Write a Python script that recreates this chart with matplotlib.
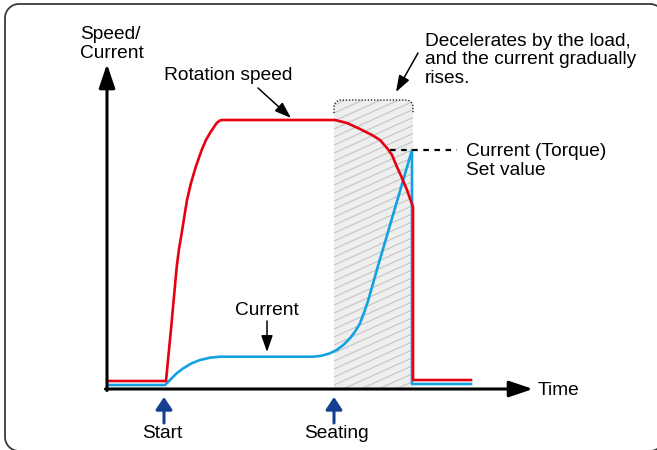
import numpy as np
import matplotlib
matplotlib.use("Agg")
import matplotlib.pyplot as plt
from matplotlib.patches import PathPatch
from matplotlib.path import Path

plt.rcParams['font.family'] = ['Liberation Sans', 'DejaVu Sans']

# ---------------- data (time, value) ----------------
speed_t = [2, 59, 64, 69.7, 72, 74.7, 80, 84, 88.7, 94.7, 99, 103, 106.3, 109.7, 112.5, 115,
           228, 240, 253, 265, 273, 280, 285, 290, 295, 300, 306, 306, 364]
speed_v = [8, 8, 60, 122, 140, 156, 189, 206, 222, 239, 249, 256, 261, 266, 268.3, 269,
           269, 266, 260, 254, 249, 241, 234, 222, 211, 199, 182, 9, 9]

current_t = [2, 58, 63, 69.7, 76.3, 84.7, 93, 103, 113, 206.3, 214.7, 223, 229.7, 236.3, 243, 248,
             253, 258, 261.3, 271, 281, 293, 305, 305, 364]
current_v = [4, 4, 9, 15.7, 20.7, 25.7, 29, 31.3, 32.3, 32.3, 33.3, 35.7, 39, 44, 50.7, 57.3,
             65.7, 79, 89, 123, 157, 198, 239, 5, 5]

start_t = 57
seating_t = 227
set_value = 239
region_end_t = 306
region_top_v = 289

label_speed = "Rotation speed"
label_current = "Current"
axis_y_lines = ["Speed/", "Current"]
axis_x_label = "Time"
note_lines = ["Decelerates by the load,", "and the current gradually", "rises."]
set_lines = ["Current (Torque)", "Set value"]
event_labels = ["Start", "Seating"]

RED = "#e60012"
BLUE = "#12a2e3"
NAVY = "#173f91"
FS = 13.8

fig = plt.figure(figsize=(6.57, 4.5), dpi=100)
ax = fig.add_axes([0, 0, 1, 1])
ax.set_xlim(-107, 550)
ax.set_ylim(-61, 389)
ax.axis('off')


def rounded_rect(x0, y0, x1, y1, rad, n=16):
    pts = []
    for cx, cy, a0 in ((x1 - rad, y1 - rad, 0), (x0 + rad, y1 - rad, 90),
                       (x0 + rad, y0 + rad, 180), (x1 - rad, y0 + rad, 270)):
        a = np.radians(np.linspace(a0, a0 + 90, n))
        pts += list(zip(cx + rad * np.cos(a), cy + rad * np.sin(a)))
    pts.append(pts[0])
    return np.array(pts)


# outer rounded frame (extends past right/bottom edge of image)
fr = rounded_rect(-102, -62, 557, 385, 14)
ax.plot(fr[:, 0], fr[:, 1], color='#3a3a3a', lw=1.3, clip_on=False, zorder=1)

# shaded region (seating -> end) with rounded top corners
r = 7
t0, t1, top = seating_t, region_end_t, region_top_v
ang1 = np.linspace(np.pi, np.pi / 2, 12)
ang2 = np.linspace(np.pi / 2, 0, 12)
verts = [(t0, 0)]
verts += [(t0 + r + r * np.cos(a), top - r + r * np.sin(a)) for a in ang1]
verts += [(t1 - r + r * np.cos(a), top - r + r * np.sin(a)) for a in ang2]
verts += [(t1, 0), (t0, 0)]
region_path = Path(verts)
fill = PathPatch(region_path, fc='#eeeeee', ec='none', zorder=2)
ax.add_patch(fill)

# hatch lines clipped to region
slope = 0.45
for c in np.arange(-60, top + 10, 8):
    ln, = ax.plot([t0, t1], [c, c + slope * (t1 - t0)], color='#c4c4c4', lw=0.8, zorder=2.5)
    ln.set_clip_path(fill)

# dotted outline on top part
dv = [(t0, top - 13)]
dv += [(t0 + r + r * np.cos(a), top - r + r * np.sin(a)) for a in ang1]
dv += [(t1 - r + r * np.cos(a), top - r + r * np.sin(a)) for a in ang2]
dv += [(t1, top - 13)]
dv = np.array(dv)
ax.plot(dv[:, 0], dv[:, 1], color='black', lw=0.9, ls=(0, (1, 1.5)), zorder=3)

# curves
ax.plot(current_t, current_v, color=BLUE, lw=1.9, zorder=4, solid_joinstyle='round')
ax.plot(speed_t, speed_v, color=RED, lw=1.9, zorder=5, solid_joinstyle='round')

# set value dashed line
ax.plot([283, 350], [set_value, set_value], color='black', lw=1.6, ls=(0, (2.5, 2.5)), zorder=5)

# axes arrows
ax_arrow = dict(arrowstyle='-|>,head_length=0.8,head_width=0.27', mutation_scale=18,
                lw=2.2, color='black', shrinkA=0, shrinkB=0)
ax.annotate('', xy=(0, 325), xytext=(0, -1.5), arrowprops=ax_arrow, zorder=6)
ax.annotate('', xy=(426, 0), xytext=(-1.5, 0), arrowprops=ax_arrow, zorder=6)

# pointer arrows
p_arrow = dict(arrowstyle='-|>,head_length=1.0,head_width=0.35', mutation_scale=10,
               lw=1.1, color='black', shrinkA=0, shrinkB=0)
ax.annotate('', xy=(184, 271), xytext=(151, 301), arrowprops=p_arrow)
ax.annotate('', xy=(160, 37), xytext=(160, 68), arrowprops=p_arrow)
ax.annotate('', xy=(289, 297), xytext=(311, 336), arrowprops=p_arrow)

# event arrows
e_arrow = dict(arrowstyle='-|>,head_length=0.75,head_width=0.5', mutation_scale=10,
               lw=2.2, color=NAVY, shrinkA=0, shrinkB=0)
for t in (start_t, seating_t):
    ax.annotate('', xy=(t, -8), xytext=(t, -34), arrowprops=e_arrow, annotation_clip=False)

# texts
ax.text(-27, 350, axis_y_lines[0], fontsize=FS, va='baseline', ha='left')
ax.text(-27, 331, axis_y_lines[1], fontsize=FS, va='baseline', ha='left')
ax.text(57, 309, label_speed, fontsize=FS, va='baseline', ha='left')
ax.text(128, 74, label_current, fontsize=FS, va='baseline', ha='left')
for i, s in enumerate(note_lines):
    ax.text(318, 343 - 18.5 * i, s, fontsize=FS, va='baseline', ha='left')
ax.text(359, 233, set_lines[0], fontsize=FS, va='baseline', ha='left')
ax.text(359, 214, set_lines[1], fontsize=FS, va='baseline', ha='left')
ax.text(431, -6, axis_x_label, fontsize=FS, va='baseline', ha='left')
ax.text(55, -49, event_labels[0], fontsize=FS, va='baseline', ha='center')
ax.text(229, -49, event_labels[1], fontsize=FS, va='baseline', ha='center')

fig.savefig("out.png", dpi=100)
